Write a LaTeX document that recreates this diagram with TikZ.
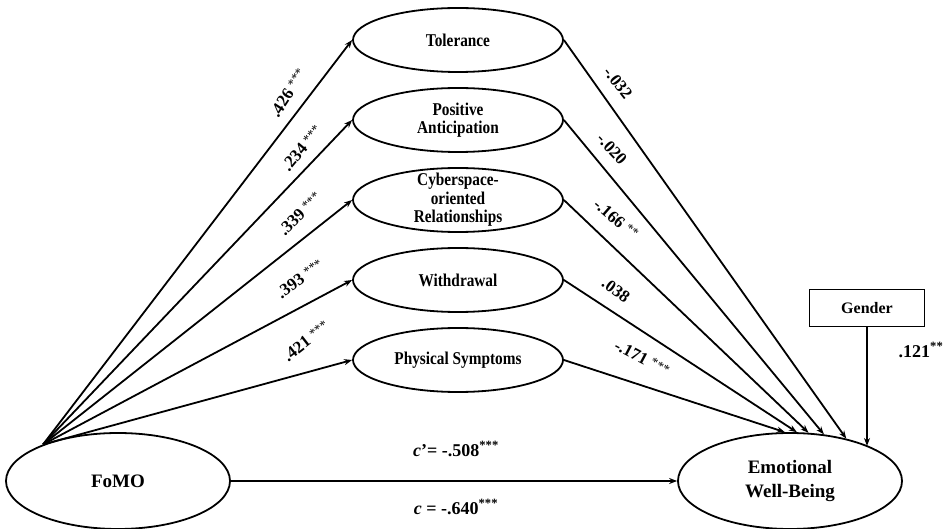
\documentclass[tikz,border=0pt]{standalone}
\usepackage{fontspec}
\setmainfont{Liberation Serif}
\newfontfamily\narrowserif{Liberation Serif}[FakeStretch=0.85]
\usetikzlibrary{shapes.geometric,arrows.meta}

% significance stars, lighter and raised
\newcommand{\sigstars}[1]{\ {\mdseries\fontsize{13}{13}\selectfont\raisebox{0.25em}{#1}}}

\begin{document}
\begin{tikzpicture}[x=1pt,y=-1pt,
  latent/.style={ellipse,draw,line width=1.8pt,minimum width=210pt,minimum height=64pt,inner sep=0pt},
  latenttext/.style={align=center,inner sep=0pt,font=\narrowserif\bfseries\fontsize{18}{18.5}\selectfont},
  endvar/.style={ellipse,draw,line width=1.8pt,minimum width=224pt,minimum height=96pt,inner sep=0pt,align=center,font=\bfseries\fontsize{19}{24}\selectfont},
  covbox/.style={rectangle,draw,line width=1.8pt,minimum width=115pt,minimum height=37pt,inner sep=0pt,font=\bfseries\fontsize{16}{18}\selectfont},
  link/.style={line width=1.8pt,-{Stealth[length=8pt,width=6pt]}},
  coef/.style={inner sep=0pt,font=\bfseries\fontsize{17}{18}\selectfont},
  effect/.style={inner sep=0pt,font=\bfseries\fontsize{18}{20}\selectfont},
]
\useasboundingbox (0,0) rectangle (948,529);

% predictor and outcome
\node[endvar] (fomo) at (118,481) {FoMO};
\node[endvar] (emo) at (790,481) {Emotional\\Well-Being};

% mediators
\node[latent] (tol) at (458,40) {};
\node[latenttext] (tolT) at (tol) {Tolerance};
\node[latent] (pos) at (458,120) {};
\node[latenttext] (posT) at (pos) {Positive\\Anticipation};
\node[latent] (cyb) at (458,200) {};
\node[latenttext] (cybT) at (cyb) {Cyberspace-\\oriented\\Relationships};
\node[latent] (wd) at (458,280) {};
\node[latenttext] (wdT) at (wd) {Withdrawal};
\node[latent] (phy) at (458,360) {};
\node[latenttext] (phyT) at (phy) {Physical Symptoms};

% covariate
\node[covbox] (gender) at (867,308) {Gender};

% common start point of the a-paths
\coordinate (src) at (fomo.154);

% a-paths
\draw[link] (src) -- (tol.west);
\draw[link] (src) -- (pos.west);
\draw[link] (src) -- (cyb.west);
\draw[link] (src) -- (wd.west);
\draw[link] (src) -- (phy.west);

% b-paths
\draw[link] (tol.east) -- (emo.37);
\draw[link] (pos.east) -- (emo.54);
\draw[link] (cyb.east) -- (emo.69);
\draw[link] (wd.east) -- (emo.82);
\draw[link] (phy.east) -- (emo.96);

% covariate and direct effect
\draw[link] (gender.south) -- (gender.south |- emo.24);
\draw[link] (fomo.east) -- (emo.west);

% a-path coefficients
\node[coef,rotate=57] (a1) at (288,93) {.426\sigstars{***}};
\node[coef,rotate=50] (a2) at (302,148) {.234\sigstars{***}};
\node[coef,rotate=45] (a3) at (300,214) {.339\sigstars{***}};
\node[coef,rotate=36] (a4) at (300,279) {.393\sigstars{***}};
\node[coef,rotate=38] (a5) at (306,341) {.421\sigstars{***}};

% b-path coefficients
\node[coef,rotate=-52] (b1) at (618,83) {-.032};
\node[coef,rotate=-47] (b2) at (612,149) {-.020};
\node[coef,rotate=-41] (b3) at (616,219) {-.166\sigstars{**}};
\node[coef,rotate=-36] (b4) at (616,290) {.038};
\node[coef,rotate=-28] (b5) at (642,358) {-.171\sigstars{***}};

% covariate and total/direct effect coefficients
\node[effect] (g1) at (921,350) {.121\textsuperscript{**}};
\node[effect] (cdir) at (456,449) {\textit{c}’= -.508\textsuperscript{***}};
\node[effect] (ctot) at (456,507) {\textit{c} = -.640\textsuperscript{***}};
\end{tikzpicture}
\end{document}
